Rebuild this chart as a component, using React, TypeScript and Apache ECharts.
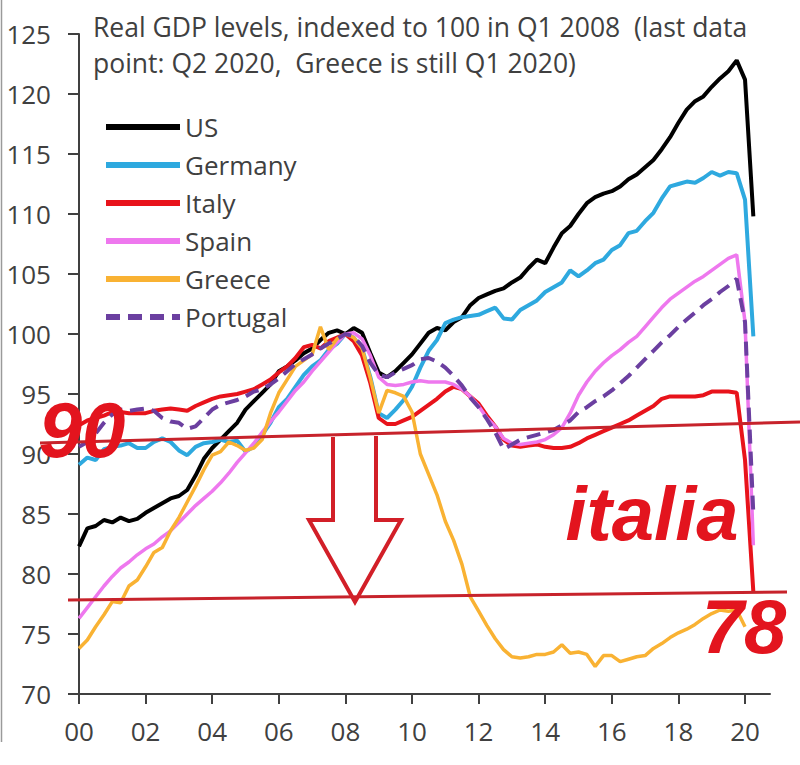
import { useEffect, useRef } from 'react';
import * as echarts from 'echarts';

const START_YEAR = 2000;
const QUARTERS_PER_YEAR = 4;
const xTickYears = [2000, 2002, 2004, 2006, 2008, 2010, 2012, 2014, 2016, 2018, 2020];

const seriesNames = ['US', 'Germany', 'Italy', 'Spain', 'Greece', 'Portugal'];

const usValues = [
  82.3, 83.8, 84.0, 84.5,
  84.3, 84.7, 84.4, 84.6,
  85.1, 85.5, 85.9, 86.3,
  86.5, 87.0, 88.2, 89.6,
  90.5, 91.2, 91.9, 92.6,
  93.7, 94.4, 95.1, 95.8,
  96.9, 97.3, 97.8, 98.4,
  98.8, 99.5, 100.1, 100.3,
  100.0, 100.5, 100.1, 98.4,
  96.8, 96.4, 96.9, 97.6,
  98.3, 99.2, 100.1, 100.5,
  100.3, 101.0, 101.4, 102.4,
  103.0, 103.3, 103.6, 103.8,
  104.3, 104.7, 105.5, 106.2,
  105.9, 107.2, 108.4, 109.0,
  110.0, 110.9, 111.4, 111.7,
  111.9, 112.3, 112.9, 113.3,
  113.9, 114.5, 115.4, 116.4,
  117.6, 118.7, 119.4, 119.8,
  120.6, 121.3, 121.9, 122.8,
  121.2, 109.8,
];

const germanyValues = [
  89.1, 89.7, 89.5, 90.4,
  90.6, 90.7, 90.9, 90.5,
  90.5, 91.0, 91.3, 91.0,
  90.3, 89.9, 90.6, 90.9,
  91.0, 91.2, 91.0, 91.1,
  90.2, 90.6, 91.6, 92.6,
  93.9, 94.6, 95.6, 96.6,
  97.3, 97.8, 98.7, 99.2,
  100.0, 99.7, 98.8, 96.4,
  93.4, 93.0, 93.7, 94.5,
  95.6, 97.2, 98.6, 99.5,
  100.9, 101.2, 101.4, 101.5,
  101.6, 101.9, 102.2, 101.3,
  101.2, 102.0, 102.4, 102.8,
  103.5, 103.9, 104.3, 105.3,
  104.8, 105.3, 105.9, 106.2,
  107.0, 107.4, 108.4, 108.6,
  109.4, 110.1, 111.3, 112.3,
  112.5, 112.7, 112.6, 113.0,
  113.5, 113.2, 113.5, 113.4,
  111.2, 99.8,
];

const italyValues = [
  92.4, 92.8, 93.0, 93.2,
  93.5, 93.5, 93.4, 93.4,
  93.4, 93.6, 93.7, 93.8,
  93.7, 93.6, 94.0, 94.3,
  94.6, 94.8, 94.9, 95.0,
  95.2, 95.4, 95.8, 96.2,
  96.8, 97.3, 98.0, 98.9,
  99.1, 98.8, 99.4, 99.7,
  100.0, 99.4, 98.2, 95.9,
  93.0, 92.5, 92.5, 92.8,
  93.1, 93.6, 94.1, 94.6,
  95.2, 95.6, 95.4, 94.8,
  94.2, 93.2, 92.3, 91.2,
  90.7, 90.6, 90.7, 90.8,
  90.6, 90.5, 90.5, 90.6,
  90.9, 91.3, 91.6, 91.9,
  92.2, 92.5, 92.8, 93.2,
  93.6, 94.0, 94.6, 94.8,
  94.8, 94.8, 94.8, 94.9,
  95.2, 95.2, 95.2, 95.1,
  89.5, 78.5,
];

const spainValues = [
  76.3, 77.2, 78.1, 79.0,
  79.8, 80.5, 81.0, 81.6,
  82.1, 82.5, 83.1, 83.6,
  84.3, 85.0, 85.7, 86.3,
  86.9, 87.6, 88.4, 89.3,
  90.1, 90.9, 91.8, 92.7,
  93.5, 94.4, 95.3, 96.0,
  96.9, 97.7, 98.5, 99.3,
  100.0, 100.1, 99.6, 98.2,
  96.4, 95.8, 95.7, 95.8,
  96.0, 96.1, 96.0, 96.0,
  96.0, 95.8, 95.4, 94.8,
  94.0, 93.0, 92.3, 91.3,
  90.9, 90.8, 90.9, 91.0,
  91.2, 91.6, 92.2, 93.4,
  94.9, 96.0, 96.9, 97.6,
  98.2, 98.7, 99.3, 99.8,
  100.6, 101.4, 102.2, 102.9,
  103.4, 103.9, 104.4, 104.8,
  105.3, 105.8, 106.3, 106.6,
  101.0, 82.4,
];

const greeceValues = [
  73.8, 74.5, 75.6, 76.6,
  77.7, 77.6, 79.0, 79.5,
  80.6, 81.8, 82.2, 83.6,
  84.7, 86.0, 87.3, 88.7,
  89.9, 90.2, 91.0, 90.7,
  90.3, 90.5, 91.2, 93.4,
  95.1, 96.2, 97.3, 97.8,
  98.3, 100.6, 98.7, 99.6,
  100.0, 99.7, 98.8, 96.3,
  93.4, 95.3, 95.1, 94.8,
  93.5, 90.0, 88.3, 86.6,
  84.4, 82.8, 80.8, 78.1,
  76.9, 75.7, 74.6, 73.7,
  73.1, 73.0, 73.1, 73.3,
  73.3, 73.5, 74.1, 73.4,
  73.5, 73.3, 72.3, 73.2,
  73.2, 72.7, 72.9, 73.1,
  73.2, 73.8, 74.2, 74.7,
  75.1, 75.4, 75.8, 76.3,
  76.7, 77.0, 76.9, 77.0,
  75.6,
];

const portugalValues = [
  90.6, 91.0, 91.7, 92.6,
  93.3, 93.7, 93.6, 93.7,
  93.8, 93.6, 93.0, 92.7,
  92.6, 92.1, 92.3, 93.0,
  93.7, 94.1, 94.3, 94.5,
  94.8, 95.2, 95.4, 95.8,
  96.3, 96.9, 97.5, 97.9,
  98.3, 98.8, 99.2, 99.6,
  100.0, 99.8, 99.0, 97.6,
  96.6, 96.4, 96.8, 97.1,
  97.4, 97.9, 98.0, 97.7,
  97.2, 96.5, 95.7, 94.7,
  93.9, 92.9, 91.8, 90.4,
  90.8, 91.2, 91.4, 91.6,
  91.8, 92.0, 92.4, 92.8,
  93.5, 93.9, 94.4, 94.8,
  95.3, 95.9, 96.5, 97.2,
  97.9, 98.6, 99.3, 99.9,
  100.6, 101.2, 101.8, 102.4,
  102.9, 103.5, 104.0, 104.6,
  101.0, 85.0,
];

const seriesValues = [usValues, germanyValues, italyValues, spainValues, greeceValues, portugalValues];
const seriesColors = ['#000000', '#2EA9DF', '#E8131B', '#EE78EE', '#F9B233', '#6B3FA0'];
const seriesWidths = [4, 4, 4, 3.5, 3.5, 4];

const titleText = 'Real GDP levels, indexed to 100 in Q1 2008  (last data\npoint: Q2 2020,  Greece is still Q1 2020)';

const FONT = '"Open Sans", "DejaVu Sans", sans-serif';
const RED = '#E3141E';
const LINE_RED = '#C7232B';

function toPoints(values: number[]) {
  return values.map((v, i) => [START_YEAR + i / QUARTERS_PER_YEAR, v]);
}

export default function App() {
  const ref = useRef<HTMLDivElement>(null);

  useEffect(() => {
    if (!ref.current) return;
    const chart = echarts.init(ref.current, undefined, { renderer: 'svg' });

    const series = seriesNames.map((name, idx) => ({
      name,
      type: 'line',
      data: toPoints(seriesValues[idx]),
      showSymbol: false,
      symbol: 'none',
      lineStyle: {
        color: seriesColors[idx],
        width: seriesWidths[idx],
        type: name === 'Portugal' ? [14, 8] : 'solid',
      },
      itemStyle: { color: seriesColors[idx] },
      z: 2 + idx,
    }));

    chart.setOption({
      animation: false,
      backgroundColor: '#ffffff',
      title: {
        text: titleText,
        left: 88,
        top: 4,
        textStyle: {
          fontSize: 26.5,
          fontWeight: 'normal',
          color: '#404040',
          fontFamily: FONT,
          lineHeight: 36,
        },
      },
      legend: {
        orient: 'vertical',
        left: 98,
        top: 109,
        itemWidth: 74,
        itemHeight: 14,
        itemGap: 12,
        data: seriesNames,
        lineStyle: { width: 6 },
        itemStyle: { opacity: 0 },
        textStyle: { fontSize: 26, color: '#404040', fontFamily: FONT },
      },
      grid: { left: 79, right: 30, top: 34, bottom: 71, containLabel: false },
      xAxis: {
        type: 'value',
        min: 2000,
        max: 2020.75,
        splitLine: { show: false },
        axisLine: { show: true, lineStyle: { color: '#404040', width: 2 } },
        axisTick: {
          show: true,
          length: 10,
          customValues: xTickYears,
          lineStyle: { color: '#404040', width: 2 },
        },
        axisLabel: {
          customValues: xTickYears,
          formatter: (v: number) => String(Math.round(v) % 100).padStart(2, '0'),
          fontSize: 26,
          color: '#404040',
          fontFamily: FONT,
          margin: 24,
        },
      },
      yAxis: {
        type: 'value',
        min: 70,
        max: 125,
        interval: 5,
        splitLine: { show: false },
        axisLine: { show: true, lineStyle: { color: '#404040', width: 2 } },
        axisTick: { show: true, length: 11, lineStyle: { color: '#404040', width: 2 } },
        axisLabel: {
          fontSize: 26,
          color: '#404040',
          fontFamily: FONT,
          margin: 28,
        },
      },
      series,
      graphic: [
        {
          type: 'line',
          shape: { x1: 1.5, y1: 0, x2: 1.5, y2: 742 },
          style: { stroke: '#9a9a9a', lineWidth: 1.5 },
          z: 100,
        },
        {
          type: 'line',
          shape: { x1: 40, y1: 443, x2: 800, y2: 422 },
          style: { stroke: LINE_RED, lineWidth: 3 },
          z: 100,
        },
        {
          type: 'line',
          shape: { x1: 68, y1: 600, x2: 787, y2: 592 },
          style: { stroke: LINE_RED, lineWidth: 3 },
          z: 100,
        },
        {
          type: 'polyline',
          shape: {
            points: [
              [333, 437], [333, 520], [309, 520], [355, 602],
              [401, 520], [376, 520], [376, 436],
            ],
          },
          style: { stroke: '#D21F28', fill: 'none', lineWidth: 4, lineJoin: 'miter' },
          z: 100,
        },
        {
          type: 'text',
          x: 82,
          y: 430,
          style: {
            text: '90',
            fontSize: 78,
            fontWeight: 'bold',
            fontStyle: 'italic',
            fontFamily: '"Liberation Sans", Arial, sans-serif',
            fill: RED,
            align: 'center',
            verticalAlign: 'middle',
          },
          z: 110,
        },
        {
          type: 'text',
          x: 652,
          y: 513,
          style: {
            text: 'italia',
            fontSize: 76,
            fontWeight: 'bold',
            fontStyle: 'italic',
            fontFamily: '"Liberation Sans", Arial, sans-serif',
            fill: RED,
            align: 'center',
            verticalAlign: 'middle',
          },
          z: 110,
        },
        {
          type: 'text',
          x: 744,
          y: 626,
          style: {
            text: '78',
            fontSize: 76,
            fontWeight: 'bold',
            fontStyle: 'italic',
            fontFamily: '"Liberation Sans", Arial, sans-serif',
            fill: RED,
            align: 'center',
            verticalAlign: 'middle',
          },
          z: 110,
        },
      ],
    });

    return () => chart.dispose();
  }, []);

  return (
    <div
      ref={ref}
      style={{ position: 'fixed', left: 0, top: 0, width: 800, height: 765, background: '#fff' }}
    />
  );
}
